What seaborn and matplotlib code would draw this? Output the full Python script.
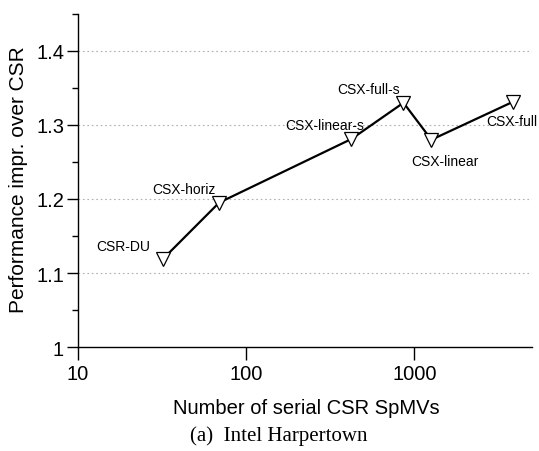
import matplotlib
matplotlib.use("Agg")
import matplotlib.pyplot as plt
import matplotlib.ticker as mticker
import seaborn as sns
import pandas as pd

methods = ["CSR-DU", "CSX-horiz", "CSX-linear-s", "CSX-full-s", "CSX-linear", "CSX-full"]
serial_spmvs = [32, 69, 422, 861, 1262, 3830]
perf_impr = [1.119, 1.195, 1.281, 1.330, 1.280, 1.331]

x_ticks = [10, 100, 1000]
x_tick_labels = ["10", "100", "1000"]
y_ticks = [1.0, 1.1, 1.2, 1.3, 1.4]
y_tick_labels = ["1", "1.1", "1.2", "1.3", "1.4"]

df = pd.DataFrame({"method": methods, "x": serial_spmvs, "y": perf_impr})

sns.set_theme(style="ticks")
plt.rcParams["font.family"] = ["Liberation Sans", "DejaVu Sans"]
plt.rcParams["text.color"] = "black"
plt.rcParams["axes.labelcolor"] = "black"
plt.rcParams["xtick.color"] = "black"
plt.rcParams["ytick.color"] = "black"

fig = plt.figure(figsize=(5.39, 4.52), dpi=100)
ax = fig.add_axes([0.1447, 0.230, 0.8423, 0.737])

sns.lineplot(data=df, x="x", y="y", sort=False, ax=ax, color="black", linewidth=1.6,
             marker="v", markersize=10, markerfacecolor="white", markeredgecolor="black",
             markeredgewidth=0.9, zorder=3)

ax.set_xscale("log")
ax.set_xlim(10, 5000)
ax.set_ylim(1.0, 1.45)
ax.set_xticks(x_ticks)
ax.set_xticklabels(x_tick_labels)
ax.xaxis.set_minor_locator(mticker.NullLocator())
ax.set_yticks(y_ticks)
ax.set_yticklabels(y_tick_labels)
ax.yaxis.set_minor_locator(mticker.MultipleLocator(0.05))

for yv in y_ticks[1:]:
    ax.axhline(yv, color="#b0b0b0", linestyle=(0, (1.5, 2.5)), linewidth=0.8, zorder=1)

ax.tick_params(axis="both", which="major", direction="out", width=1.0,
               labelsize=14.5, colors="black", labelcolor="black")
ax.tick_params(axis="x", which="major", length=9.5, pad=3)
ax.tick_params(axis="y", which="major", length=8, pad=2)
ax.tick_params(axis="y", which="minor", direction="out", length=4.5, width=1.0)
for side in ["top", "right"]:
    ax.spines[side].set_visible(False)
for side in ["left", "bottom"]:
    ax.spines[side].set_linewidth(1.0)
    ax.spines[side].set_color("black")

ax.set_xlabel("Number of serial CSR SpMVs", fontsize=14.5, color="black")
ax.set_ylabel("Performance impr. over CSR", fontsize=15, color="black")
ax.xaxis.set_label_coords(0.502, -0.18)
ax.xaxis.label.set_va("center")
ax.yaxis.set_label_coords(-0.130, 0.505)
ax.yaxis.label.set_va("center")

# point labels (offsets in points relative to the data point)
offsets = {
    "CSR-DU": (-28.5, 9.5, "center"),
    "CSX-horiz": (-25, 10, "center"),
    "CSX-linear-s": (-19, 10, "center"),
    "CSX-full-s": (-25, 10, "center"),
    "CSX-linear": (10, -15, "center"),
    "CSX-full": (18, -14, "right"),
}
for m, xv, yv in zip(methods, serial_spmvs, perf_impr):
    dx, dy, ha = offsets[m]
    ax.annotate(m, (xv, yv), xytext=(dx, dy), textcoords="offset points",
                ha=ha, va="center", fontsize=10, color="black")

fig.text(279 / 539, 1 - 436 / 452, "(a)  Intel Harpertown", ha="center", va="center",
         fontsize=15, color="black", family=["Liberation Serif", "DejaVu Serif"])

fig.savefig("out.png", dpi=100)
